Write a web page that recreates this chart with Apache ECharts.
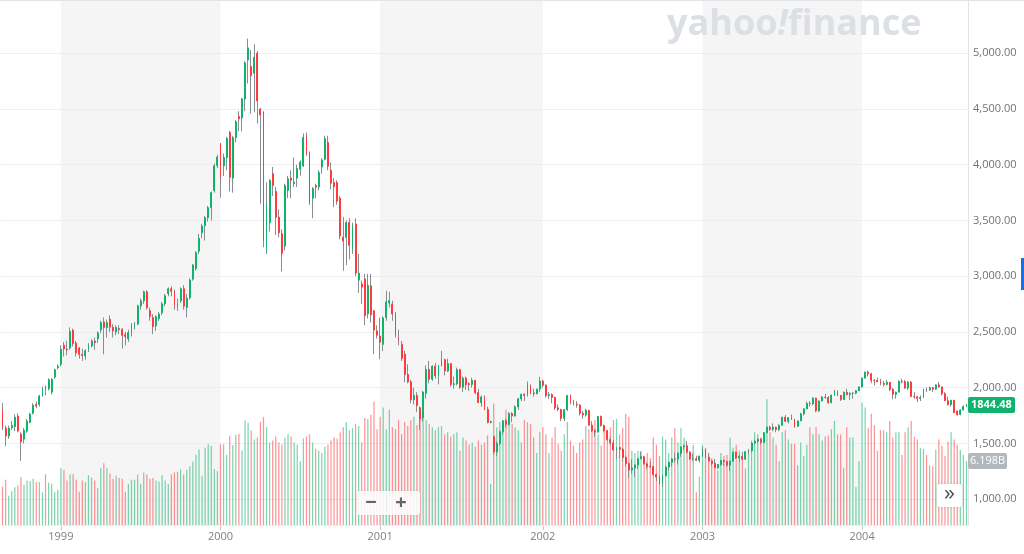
<!DOCTYPE html>
<html><head><meta charset="utf-8">
<script src="https://cdn.jsdelivr.net/npm/echarts@6/dist/echarts.min.js"></script>
<style>html,body{margin:0;padding:0;background:#fff}#c{width:1024px;height:554px}</style>
</head><body><div id="c"></div>
<script>
// Weekly candles (Monday of each week), first week shown:
const firstWeek = '1998-08-24';
const shadedYears = ['1999', '2001', '2003'];
const lastPriceLabel = '1844.48';
const lastVolumeLabel = '6.198B';

// [open, high, low, close] per week
const w1998 = [
[1800,1862,1620,1639],[1636,1660,1475,1566],[1566,1660,1540,1636],[1640,1700,1620,1660],[1650,1760,1610,1735],
[1745,1770,1600,1612],[1583,1600,1343,1515],[1538,1640,1500,1617],[1610,1720,1595,1700],[1690,1775,1680,1763],
[1771,1860,1760,1843],[1850,1875,1815,1835],[1850,1935,1830,1925],[1928,2010,1920,1990],[2005,2020,1930,1985],
[1990,2085,1975,2070],[1960,2085,1940,2075],[2095,2170,2080,2160],[2180,2210,2165,2193]];
const w1999 = [
[2210,2380,2190,2345],[2380,2410,2280,2348],[2345,2420,2290,2338],[2356,2540,2340,2505],[2515,2530,2370,2395],
[2400,2420,2280,2311],[2355,2365,2260,2300],[2300,2350,2240,2288],[2285,2345,2250,2330],[2350,2400,2320,2380],
[2374,2435,2360,2419],[2419,2450,2340,2405],[2437,2505,2400,2491],[2518,2600,2490,2584],[2590,2630,2300,2540],
[2540,2610,2450,2584],[2614,2650,2500,2543],[2540,2570,2450,2510],[2500,2560,2470,2539],[2530,2560,2480,2521],
[2524,2535,2350,2470],[2475,2500,2380,2460],[2440,2520,2410,2494],[2494,2580,2460,2563],[2545,2590,2520,2572],
[2572,2745,2560,2734],[2734,2800,2700,2779],[2779,2870,2750,2860],[2860,2875,2700,2718],[2690,2720,2600,2640],
[2630,2660,2480,2547],[2554,2650,2510,2637],[2620,2680,2600,2660],[2671,2770,2650,2752],[2752,2840,2730,2824],
[2845,2900,2820,2887],[2887,2910,2820,2865],[2865,2880,2700,2740],[2745,2800,2690,2736],[2780,2900,2760,2887],
[2887,2920,2700,2731],[2720,2840,2630,2801],[2808,2980,2790,2966],[2974,3110,2960,3100],[3070,3225,3050,3210],
[3225,3380,3200,3340],[3390,3470,3340,3450],[3453,3540,3320,3525],[3525,3630,3490,3615],[3615,3760,3500,3750],
[3768,4010,3750,3990],[3993,4090,3970,4069]];
const w2000 = [
[4191,4195,3705,3885],[3990,4100,3900,4064],[4065,4250,3950,4236],[4290,4303,3760,3887],[3880,4260,3750,4244],
[4245,4400,4200,4385],[4433,4480,4300,4411],[4420,4600,4300,4590],[4590,4930,4480,4914],[4940,5132,4730,5048],
[4880,5030,4460,4798],[4820,5080,4470,4964],[5000,5020,4370,4573],[4500,4510,3650,4446],[4470,4480,3260,3321],
[3230,3843,3200,3643],[3480,3870,3400,3860],[3920,3980,3720,3816],[3760,3800,3370,3529],[3530,3600,3350,3390],
[3380,3420,3042,3205],[3270,3830,3230,3813],[3770,3900,3700,3874],[3880,3950,3700,3860],[3830,4065,3800,3845],
[3880,4000,3800,3966],[3960,4040,3900,4023],[3990,4280,3980,4246],[4250,4290,4080,4094],[4110,4120,3640,3663],
[3700,3800,3520,3787],[3815,3830,3700,3800],[3800,3950,3770,3930],[3980,4060,3920,4042],[4050,4260,4040,4234],
[4200,4260,3950,3987],[3950,4020,3780,3835],[3840,3880,3620,3803],[3840,3860,3640,3673],[3700,3720,3330,3361],
[3350,3530,3050,3316],[3348,3500,3100,3483],[3483,3520,3150,3278],[3244,3480,3200,3451],[3468,3520,3000,3028],
[2965,3200,2850,3027],[2930,2960,2750,2904],[2975,3020,2560,2645],[2662,3020,2620,2917],[2914,3020,2584,2653],
[2689,2700,2300,2517],[2509,2560,2440,2470]];
const w2001 = [
[2464,2629,2255,2407],[2389,2640,2330,2626],[2629,2869,2600,2770],[2760,2860,2720,2781],[2749,2780,2600,2661],
[2660,2680,2450,2471],[2449,2520,2380,2425],[2389,2420,2240,2263],[2302,2330,2050,2118],[2118,2210,2040,2053],
[2053,2070,1860,1891],[1891,2000,1850,1929],[1929,1960,1780,1840],[1820,1830,1620,1720],[1730,1970,1700,1961],
[1950,2200,1900,2163],[2163,2240,2040,2076],[2076,2200,2060,2192],[2192,2220,2080,2107],[2107,2200,2030,2199],
[2199,2330,2190,2251],[2251,2260,2110,2149],[2149,2260,2140,2215],[2215,2220,2010,2028],[2028,2100,1990,2035],
[2035,2180,2020,2161],[2161,2170,1990,2004],[2004,2100,1960,2085],[2085,2100,1980,2029],[2035,2050,1970,2029],
[2029,2090,2000,2066],[2066,2070,1940,1956],[1956,1990,1860,1867],[1867,1930,1830,1917],[1917,1930,1800,1805],
[1805,1830,1680,1688],[1688,1705,1680,1695],[1560,1570,1400,1423],[1423,1520,1387,1499],[1499,1615,1480,1605],
[1605,1710,1580,1703],[1703,1720,1640,1671],[1671,1780,1660,1769],[1769,1780,1690,1746],[1746,1840,1740,1828],
[1828,1910,1800,1899],[1899,1945,1880,1941],[1941,1950,1880,1931],[1931,2055,1920,2021],[2021,2030,1940,1953],
[1953,1990,1920,1946],[1946,1990,1940,1987]];
const w2002 = [
[1987,2098,1960,2059],[2059,2070,2000,2022],[2022,2030,1910,1930],[1930,1960,1900,1938],[1938,1950,1860,1911],
[1911,1920,1800,1819],[1819,1850,1790,1805],[1805,1810,1700,1725],[1725,1810,1700,1803],[1803,1935,1790,1930],
[1930,1940,1850,1868],[1868,1890,1840,1851],[1851,1880,1820,1845],[1845,1850,1750,1770],[1770,1790,1720,1756],
[1756,1810,1740,1797],[1797,1800,1660,1664],[1664,1700,1600,1613],[1613,1630,1560,1601],[1601,1745,1600,1741],
[1741,1750,1650,1661],[1661,1670,1600,1616],[1616,1620,1520,1535],[1535,1560,1480,1505],[1505,1530,1430,1441],
[1441,1470,1360,1463],[1463,1470,1370,1448],[1448,1460,1340,1374],[1374,1390,1290,1319],[1319,1330,1190,1262],
[1262,1360,1230,1280],[1280,1310,1200,1307],[1307,1370,1270,1361],[1361,1425,1360,1381],[1381,1390,1310,1315],
[1315,1330,1270,1295],[1295,1340,1280,1291],[1291,1300,1210,1221],[1221,1230,1160,1199],[1199,1210,1130,1140],
[1140,1215,1108,1210],[1210,1300,1200,1288],[1288,1335,1260,1331],[1331,1370,1290,1361],[1361,1420,1330,1359],
[1359,1420,1310,1411],[1411,1470,1380,1469],[1469,1490,1440,1479],[1479,1522,1410,1422],[1422,1430,1350,1362],
[1362,1410,1340,1363],[1363,1390,1340,1348]];
const w2003 = [
[1348,1390,1330,1387],[1387,1468,1380,1448],[1448,1450,1370,1376],[1376,1410,1340,1342],[1342,1350,1300,1321],
[1321,1360,1280,1282],[1282,1315,1270,1310],[1310,1350,1300,1349],[1349,1350,1300,1338],[1338,1345,1290,1305],
[1305,1345,1253,1340],[1340,1425,1335,1422],[1422,1425,1360,1370],[1370,1400,1330,1384],[1384,1425,1350,1359],
[1359,1430,1350,1426],[1426,1450,1400,1435],[1435,1510,1420,1503],[1503,1535,1490,1520],[1520,1545,1500,1539],
[1539,1545,1490,1510],[1510,1600,1505,1596],[1596,1650,1590,1646],[1646,1660,1610,1626],[1626,1680,1610,1645],
[1645,1650,1600,1625],[1625,1670,1610,1663],[1663,1740,1660,1734],[1734,1755,1690,1698],[1698,1735,1680,1731],
[1731,1760,1710,1716],[1716,1720,1640,1653],[1653,1705,1650,1702],[1702,1775,1700,1765],[1765,1815,1750,1810],
[1810,1875,1808,1858],[1858,1880,1830,1856],[1856,1915,1840,1906],[1906,1910,1780,1792],[1792,1885,1780,1881],
[1881,1925,1875,1915],[1915,1945,1900,1912],[1912,1925,1855,1866],[1866,1940,1860,1932],[1932,1980,1930,1971],
[1971,1975,1925,1930],[1930,1935,1880,1894],[1894,1965,1890,1960],[1960,1990,1930,1938],[1938,1960,1890,1949],
[1949,1960,1900,1951],[1951,1975,1940,1973],[1973,2010,1970,2007]];
const w2004 = [
[2007,2090,2000,2087],[2087,2145,2080,2140],[2140,2153,2100,2124],[2124,2130,2040,2066],[2066,2080,2020,2064],
[2064,2090,2050,2054],[2054,2080,2020,2038],[2038,2060,2010,2030],[2030,2070,2020,2048],[2048,2050,1970,1985],
[1985,1995,1896,1940],[1940,1965,1900,1960],[1960,2065,1960,2057],[2057,2080,2040,2053],[2053,2070,1990,1996],
[1996,2060,1980,2050],[2050,2060,1915,1920],[1920,1960,1900,1918],[1918,1925,1870,1904],[1904,1930,1880,1912],
[1912,1990,1910,1987],[1987,2000,1960,1979],[1979,2010,1970,2000],[2000,2005,1960,1987],[1987,2030,1980,2025],
[2025,2050,2000,2007],[2007,2010,1930,1946],[1946,1960,1880,1883],[1883,1920,1840,1849],[1849,1890,1830,1887],
[1887,1890,1770,1777],[1790,1795,1750,1757],[1760,1805,1752,1800],[1800,1840,1795,1830],[1830,1855,1825,1844.48]];

// weekly volume, billions
const v1998 = [3.73,4.40,2.83,3.27,3.67,3.83,4.67,3.90,4.33,4.27,4.50,4.17,4.17,3.17,4.93,4.10,4.00,3.17,3.43];
const v1999 = [5.50,5.33,4.33,4.90,4.93,4.40,3.23,4.33,4.17,4.83,4.60,4.33,3.57,5.50,6.00,5.50,5.00,4.50,4.77,4.57,4.50,
3.23,4.00,4.40,4.40,4.90,4.00,5.10,4.90,4.50,4.57,4.33,4.23,4.83,4.33,3.97,4.90,5.10,5.17,5.40,4.90,
5.33,5.67,6.17,6.83,7.33,4.73,7.50,7.83,7.67,5.43,5.23];
const v2000 = [7.83,7.83,6.83,8.67,7.77,8.77,8.83,7.23,10.17,9.93,9.17,8.30,8.50,
10.0,10.5,9.5,8.0,8.2,8.6,8.0,7.8,8.5,8.8,8.6,8.0,7.8,6.2,8.4,8.6,8.8,8.0,7.4,7.2,7.0,7.6,7.8,8.2,8.5,8.4,9.0,9.5,10.0,9.2,9.4,9.8,9.6,8.0,
10.4,10.3,10.7,12.0,9.3];
const v2001 = [10.5,11.4,9.3,11.2,9.5,9.3,10.2,8.8,10.0,9.6,10.2,10.5,9.7,11.0,11.8,10.2,9.8,9.5,9.2,9.5,
9.6,8.8,9.0,8.6,8.8,9.0,7.2,8.5,8.2,7.8,8.0,7.6,8.2,7.8,8.0,8.7,4.0,11.8,9.5,10.0,
9.7,11.2,10.8,9.8,9.5,9.2,8.0,10.2,10.0,9.8,8.5,7.0];
const v2002 = [9.0,9.5,8.8,7.0,8.5,9.5,7.9,7.2,8.8,10.0,8.2,7.7,7.0,8.0,8.3,9.6,9.3,9.7,10.2,8.8,7.7,
9.3,8.5,9.5,10.2,10.3,8.8,9.4,10.8,10.5,7.2,7.0,7.2,7.2,6.5,7.0,6.5,8.5,7.8,6.7,8.6,
8.3,7.0,8.5,9.4,8.0,9.4,8.5,7.2,7.0,7.8,3.2];
const v2003 = [4.7,7.8,7.5,7.0,6.5,6.0,5.3,7.0,6.7,6.8,8.5,7.5,7.8,7.2,
6.5,5.5,7.3,8.2,9.0,8.8,8.5,8.7,12.2,9.0,8.5,7.8,6.2,9.0,9.2,8.3,7.9,7.9,5.8,8.0,
6.7,7.8,9.5,8.8,9.5,8.8,8.2,8.6,8.7,9.3,10.1,8.8,8.8,5.5,9.5,8.5,8.5,3.7,6.2];
const v2004 = [11.9,11.4,9.4,10.8,9.7,7.2,9.2,9.2,9.0,10.1,8.5,9.0,9.0,6.8,9.0,9.5,10.1,8.6,8.3,7.5,
7.4,6.8,5.8,5.7,7.3,8.3,7.7,6.7,8.1,9.0,8.3,7.8,7.3,6.8,6.198];

const ohlc = [].concat(w1998, w1999, w2000, w2001, w2002, w2003, w2004);
const volume = [].concat(v1998, v1999, v2000, v2001, v2002, v2003, v2004);

const weeks = [];
const t0 = Date.parse(firstWeek + 'T00:00:00Z');
for (let i = 0; i < ohlc.length; i++) weeks.push(new Date(t0 + i * 7 * 86400000).toISOString().slice(0, 10));
const isYearStart = i => i > 0 && weeks[i].slice(0, 4) !== weeks[i - 1].slice(0, 4);
const firstOfYear = {};
weeks.forEach((w, i) => { if (isYearStart(i)) firstOfYear[w.slice(0, 4)] = w; });

const UP = '#0fb36b', DOWN = '#ff3b3f', WICK = '#888d93';
const UPV = 'rgba(15,179,107,0.55)', DOWNV = 'rgba(255,59,63,0.55)';

const bands = shadedYears.map(y => [{ xAxis: firstOfYear[y] }, { xAxis: firstOfYear[String(+y + 1)] }]);

const chart = echarts.init(document.getElementById('c'), null, { renderer: 'canvas' });
const fmt = v => v.toLocaleString('en-US', { minimumFractionDigits: 2, maximumFractionDigits: 2 });

chart.setOption({
  animation: false,
  backgroundColor: '#fff',
  grid: [
    { left: 1, right: 56, top: 0, bottom: 29 },
    { left: 1, right: 56, top: 319, bottom: 29 }
  ],
  xAxis: [
    {
      type: 'category', data: weeks, gridIndex: 0, boundaryGap: true,
      axisLine: { lineStyle: { color: '#e4e4e4' } },
      axisTick: { show: true, alignWithLabel: true, interval: (i) => isYearStart(i), length: 5, lineStyle: { color: '#c9c9c9' } },
      axisLabel: { interval: (i) => isYearStart(i), formatter: v => v.slice(0, 4), color: '#7b8089', fontSize: 11, fontFamily: 'Open Sans', margin: 6 },
      splitLine: { show: false }
    },
    { type: 'category', data: weeks, gridIndex: 1, boundaryGap: true, show: false }
  ],
  yAxis: [
    {
      type: 'value', gridIndex: 0, position: 'right', min: 768, max: 5478, splitNumber: 10, z: 2,
      axisLine: { show: true, lineStyle: { color: '#e3e3e3' } },
      axisTick: { show: false },
      axisLabel: { showMinLabel: false, showMaxLabel: false, formatter: fmt, color: '#6c737a', fontSize: 11, fontFamily: 'Open Sans', margin: 5 },
      splitLine: { lineStyle: { color: '#eeeeee' } }
    },
    { type: 'value', gridIndex: 1, min: 0, max: 20, show: false }
  ],
  series: [
    {
      type: 'line', xAxisIndex: 0, yAxisIndex: 0, data: [], silent: true,
      markArea: { silent: true, itemStyle: { color: '#f5f5f5' }, data: bands }
    },
    {
      type: 'bar', xAxisIndex: 1, yAxisIndex: 1, barWidth: '40%', z: 2, silent: true,
      data: volume.map((v, i) => ({ value: v, itemStyle: { color: ohlc[i][3] >= ohlc[i][0] ? UPV : DOWNV } }))
    },
    {
      type: 'candlestick', xAxisIndex: 0, yAxisIndex: 0, barWidth: 1, z: 3, silent: true,
      data: ohlc.map(r => [r[2], r[2], r[2], r[1]]),
      itemStyle: { color: WICK, color0: WICK, borderColor: WICK, borderColor0: WICK, borderWidth: 1 }
    },
    {
      type: 'candlestick', xAxisIndex: 0, yAxisIndex: 0, barWidth: '45%', z: 4, silent: true,
      data: ohlc.map(r => [r[0], r[3], Math.min(r[0], r[3]), Math.max(r[0], r[3])]),
      itemStyle: { color: UP, color0: DOWN, borderColor: UP, borderColor0: DOWN, borderWidth: 1 }
    }
  ]
});

const last = ohlc[ohlc.length - 1];
const pY = chart.convertToPixel({ yAxisIndex: 0 }, last[3]);
const vY = chart.convertToPixel({ yAxisIndex: 1 }, volume[volume.length - 1]);

chart.setOption({
  graphic: [
    { type: 'rect', z: 20, shape: { x: 0, y: 0, width: 1024, height: 1 }, style: { fill: '#e1e5ea' }, silent: true },
    { type: 'text', z: 1.5, left: 667, top: 7, style: { text: 'yahoo{e|!}finance', font: 'bold 36px "Open Sans"', fill: '#dcdfe4',
      rich: { e: { font: 'italic bold 36px "Open Sans"', fill: '#dcdfe4' } } }, silent: true },
    { type: 'rect', z: 20, shape: { x: 357, y: 491, width: 63, height: 24, r: 3 }, style: { fill: 'rgba(255,255,255,0.88)', shadowBlur: 3, shadowColor: 'rgba(0,0,0,0.08)' }, silent: true },
    { type: 'rect', z: 21, shape: { x: 386, y: 494, width: 1, height: 18 }, style: { fill: 'rgba(0,0,0,0.05)' }, silent: true },
    { type: 'text', z: 21, x: 371, y: 503, style: { text: '\u2212', font: 'bold 20px "Open Sans"', fill: '#60656b', align: 'center', verticalAlign: 'middle' }, silent: true },
    { type: 'text', z: 21, x: 401, y: 503, style: { text: '+', font: 'bold 20px "Open Sans"', fill: '#60656b', align: 'center', verticalAlign: 'middle' }, silent: true },
    { type: 'rect', z: 20, shape: { x: 937, y: 484, width: 25, height: 23, r: 3 }, style: { fill: '#ffffff', shadowBlur: 4, shadowColor: 'rgba(0,0,0,0.12)' }, silent: true },
    { type: 'text', z: 21, x: 949.5, y: 494, style: { text: '\u00bb', font: '22px "Open Sans"', fill: '#4a4f55', align: 'center', verticalAlign: 'middle' }, silent: true },
    { type: 'rect', z: 20, shape: { x: 1021, y: 258, width: 3, height: 32 }, style: { fill: '#1a6cf0' }, silent: true },
    { type: 'rect', z: 20, shape: { x: 968, y: Math.round(pY) - 8, width: 47, height: 16, r: 2 }, style: { fill: '#0fb36b' }, silent: true },
    { type: 'text', z: 21, x: 971, y: Math.round(pY), style: { text: lastPriceLabel, font: 'bold 11px "Open Sans"', fill: '#ffffff', verticalAlign: 'middle' }, silent: true },
    { type: 'rect', z: 20, shape: { x: 968, y: Math.round(vY) - 8, width: 39, height: 16, r: 2 }, style: { fill: '#b3b8bf' }, silent: true },
    { type: 'text', z: 21, x: 970, y: Math.round(vY), style: { text: lastVolumeLabel, font: '11px "Open Sans"', fill: '#ffffff', verticalAlign: 'middle' }, silent: true }
  ]
});
</script>
</body></html>
